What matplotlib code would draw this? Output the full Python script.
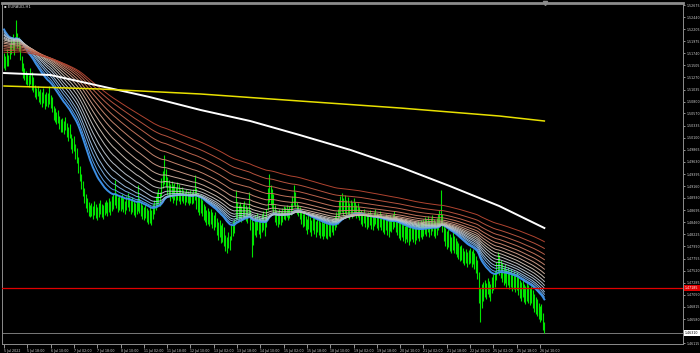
import numpy as np
import pandas as pd
import matplotlib
matplotlib.use("Agg")
import matplotlib.pyplot as plt
from matplotlib.colors import LinearSegmentedColormap

# EURAUD H1, one entry per bar (5 Jul 02:00 -> 26 Jul ~13:00)
highs = [
    1.5175, 1.5168, 1.5182, 1.5170, 1.5192, 1.5205, 1.5211, 1.5198, 1.5238, 1.5214,
    1.5206, 1.5190, 1.5168, 1.5155, 1.5146, 1.5140, 1.5135, 1.5131, 1.5146, 1.5138,
    1.5128, 1.5113, 1.5106, 1.5111, 1.5100, 1.5104, 1.5098, 1.5107, 1.5095, 1.5099,
    1.5096, 1.5110, 1.5092, 1.5088, 1.5072, 1.5068, 1.5060, 1.5064, 1.5052, 1.5046,
    1.5048, 1.5043, 1.5050, 1.5039, 1.5031, 1.5036, 1.5018, 1.5010, 1.5014, 1.4998,
    1.4990, 1.4972, 1.4955, 1.4940, 1.4925, 1.4912, 1.4900, 1.4893, 1.4886, 1.4880,
    1.4884, 1.4878, 1.4888, 1.4881, 1.4876, 1.4884, 1.4890, 1.4882, 1.4879, 1.4886,
    1.4890, 1.4885, 1.4893, 1.4888, 1.4896, 1.4901, 1.4928, 1.4902, 1.4894, 1.4898,
    1.4896, 1.4900, 1.4893, 1.4888, 1.4897, 1.4903, 1.4895, 1.4889, 1.4894, 1.4887,
    1.4884, 1.4890, 1.4918, 1.4893, 1.4885, 1.4880, 1.4876, 1.4882, 1.4874, 1.4870,
    1.4876, 1.4870, 1.4881, 1.4890, 1.4897, 1.4904, 1.4911, 1.4905, 1.4932, 1.4946,
    1.4976, 1.4950, 1.4934, 1.4928, 1.4920, 1.4925, 1.4918, 1.4922, 1.4915, 1.4924,
    1.4920, 1.4911, 1.4915, 1.4908, 1.4904, 1.4910, 1.4906, 1.4902, 1.4908, 1.4905,
    1.4910, 1.4938, 1.4912, 1.4903, 1.4896, 1.4899, 1.4890, 1.4882, 1.4878, 1.4870,
    1.4874, 1.4868, 1.4872, 1.4865, 1.4860, 1.4866, 1.4855, 1.4846, 1.4850, 1.4840,
    1.4845, 1.4836, 1.4822, 1.4818, 1.4826, 1.4820, 1.4840, 1.4848, 1.4852, 1.4908,
    1.4885, 1.4880, 1.4886, 1.4878, 1.4882, 1.4888, 1.4880, 1.4876, 1.4904, 1.4870,
    1.4852, 1.4846, 1.4860, 1.4852, 1.4864, 1.4858, 1.4850, 1.4862, 1.4868, 1.4858,
    1.4872, 1.4912, 1.4940, 1.4918, 1.4910, 1.4900, 1.4880, 1.4870, 1.4866, 1.4872,
    1.4868, 1.4874, 1.4878, 1.4876, 1.4880, 1.4872, 1.4878, 1.4884, 1.4896, 1.4918,
    1.4904, 1.4886, 1.4880, 1.4875, 1.4868, 1.4862, 1.4866, 1.4858, 1.4852, 1.4860,
    1.4856, 1.4850, 1.4862, 1.4854, 1.4848, 1.4856, 1.4852, 1.4846, 1.4850, 1.4844,
    1.4850, 1.4846, 1.4842, 1.4848, 1.4845, 1.4852, 1.4848, 1.4858, 1.4866, 1.4872,
    1.4890, 1.4896, 1.4902, 1.4892, 1.4898, 1.4890, 1.4894, 1.4884, 1.4890, 1.4886,
    1.4892, 1.4886, 1.4880, 1.4884, 1.4876, 1.4870, 1.4866, 1.4872, 1.4864, 1.4860,
    1.4866, 1.4870, 1.4862, 1.4858, 1.4866, 1.4872, 1.4864, 1.4860, 1.4868, 1.4862,
    1.4858, 1.4856, 1.4862, 1.4854, 1.4850, 1.4860, 1.4856, 1.4862, 1.4868, 1.4858,
    1.4852, 1.4848, 1.4844, 1.4850, 1.4842, 1.4838, 1.4846, 1.4840, 1.4834, 1.4842,
    1.4846, 1.4840, 1.4836, 1.4844, 1.4848, 1.4842, 1.4850, 1.4846, 1.4852, 1.4856,
    1.4852, 1.4858, 1.4850, 1.4854, 1.4860, 1.4852, 1.4848, 1.4854, 1.4862, 1.4870,
    1.4908, 1.4862, 1.4846, 1.4834, 1.4828, 1.4832, 1.4824, 1.4818, 1.4826, 1.4820,
    1.4816, 1.4810, 1.4806, 1.4800, 1.4802, 1.4796, 1.4790, 1.4794, 1.4788, 1.4792,
    1.4796, 1.4790, 1.4794, 1.4786, 1.4780, 1.4772, 1.4750, 1.4718, 1.4726, 1.4730,
    1.4734, 1.4728, 1.4738, 1.4732, 1.4726, 1.4740, 1.4746, 1.4752, 1.4768, 1.4788,
    1.4782, 1.4772, 1.4766, 1.4760, 1.4764, 1.4756, 1.4760, 1.4752, 1.4756, 1.4748,
    1.4752, 1.4746, 1.4750, 1.4740, 1.4734, 1.4730, 1.4736, 1.4726, 1.4722, 1.4728,
    1.4724, 1.4718, 1.4722, 1.4714, 1.4706, 1.4700, 1.4696, 1.4690, 1.4684, 1.4688, 1.4670, 1.4652,
]
lows = [
    1.5146, 1.5141, 1.5150, 1.5149, 1.5163, 1.5172, 1.5180, 1.5170, 1.5199, 1.5185,
    1.5178, 1.5160, 1.5139, 1.5126, 1.5121, 1.5115, 1.5112, 1.5108, 1.5114, 1.5102,
    1.5099, 1.5088, 1.5085, 1.5090, 1.5080, 1.5075, 1.5070, 1.5078, 1.5066, 1.5071,
    1.5070, 1.5075, 1.5068, 1.5060, 1.5045, 1.5040, 1.5036, 1.5039, 1.5027, 1.5021,
    1.5022, 1.5017, 1.5024, 1.5012, 1.5004, 1.5010, 1.4988, 1.4980, 1.4984, 1.4968,
    1.4960, 1.4941, 1.4925, 1.4910, 1.4896, 1.4884, 1.4873, 1.4865, 1.4858, 1.4856,
    1.4858, 1.4853, 1.4860, 1.4855, 1.4850, 1.4857, 1.4862, 1.4856, 1.4852, 1.4860,
    1.4863, 1.4858, 1.4866, 1.4860, 1.4868, 1.4872, 1.4880, 1.4873, 1.4866, 1.4870,
    1.4868, 1.4872, 1.4866, 1.4862, 1.4870, 1.4876, 1.4868, 1.4861, 1.4866, 1.4860,
    1.4857, 1.4862, 1.4868, 1.4864, 1.4858, 1.4852, 1.4850, 1.4855, 1.4846, 1.4842,
    1.4845, 1.4840, 1.4852, 1.4862, 1.4869, 1.4876, 1.4882, 1.4878, 1.4895, 1.4912,
    1.4920, 1.4915, 1.4898, 1.4894, 1.4888, 1.4892, 1.4884, 1.4889, 1.4880, 1.4890,
    1.4888, 1.4882, 1.4887, 1.4884, 1.4880, 1.4886, 1.4883, 1.4879, 1.4884, 1.4881,
    1.4884, 1.4890, 1.4872, 1.4866, 1.4860, 1.4864, 1.4858, 1.4850, 1.4846, 1.4840,
    1.4842, 1.4838, 1.4843, 1.4834, 1.4830, 1.4836, 1.4822, 1.4812, 1.4818, 1.4806,
    1.4808, 1.4800, 1.4790, 1.4786, 1.4795, 1.4792, 1.4812, 1.4820, 1.4825, 1.4850,
    1.4852, 1.4848, 1.4855, 1.4846, 1.4852, 1.4857, 1.4849, 1.4845, 1.4860, 1.4830,
    1.4778, 1.4802, 1.4822, 1.4818, 1.4830, 1.4824, 1.4815, 1.4826, 1.4830, 1.4820,
    1.4836, 1.4870, 1.4886, 1.4880, 1.4872, 1.4862, 1.4846, 1.4840, 1.4836, 1.4842,
    1.4840, 1.4846, 1.4852, 1.4850, 1.4856, 1.4850, 1.4854, 1.4860, 1.4870, 1.4880,
    1.4876, 1.4862, 1.4858, 1.4852, 1.4842, 1.4836, 1.4838, 1.4830, 1.4824, 1.4832,
    1.4826, 1.4820, 1.4830, 1.4824, 1.4818, 1.4826, 1.4822, 1.4816, 1.4820, 1.4814,
    1.4820, 1.4816, 1.4814, 1.4820, 1.4818, 1.4826, 1.4822, 1.4830, 1.4836, 1.4842,
    1.4856, 1.4862, 1.4866, 1.4858, 1.4864, 1.4856, 1.4860, 1.4852, 1.4858, 1.4854,
    1.4864, 1.4860, 1.4854, 1.4856, 1.4850, 1.4842, 1.4838, 1.4844, 1.4836, 1.4832,
    1.4836, 1.4840, 1.4832, 1.4830, 1.4838, 1.4842, 1.4834, 1.4830, 1.4836, 1.4830,
    1.4826, 1.4824, 1.4830, 1.4822, 1.4818, 1.4828, 1.4826, 1.4832, 1.4836, 1.4826,
    1.4822, 1.4816, 1.4812, 1.4818, 1.4810, 1.4806, 1.4814, 1.4808, 1.4802, 1.4810,
    1.4814, 1.4808, 1.4804, 1.4812, 1.4816, 1.4810, 1.4818, 1.4814, 1.4820, 1.4824,
    1.4820, 1.4826, 1.4818, 1.4822, 1.4828, 1.4820, 1.4816, 1.4822, 1.4830, 1.4836,
    1.4840, 1.4826, 1.4810, 1.4800, 1.4794, 1.4798, 1.4790, 1.4786, 1.4792, 1.4786,
    1.4784, 1.4778, 1.4774, 1.4770, 1.4772, 1.4766, 1.4762, 1.4766, 1.4760, 1.4764,
    1.4766, 1.4760, 1.4764, 1.4756, 1.4748, 1.4736, 1.4690, 1.4652, 1.4680, 1.4694,
    1.4700, 1.4696, 1.4706, 1.4700, 1.4694, 1.4708, 1.4714, 1.4720, 1.4734, 1.4748,
    1.4744, 1.4738, 1.4730, 1.4724, 1.4728, 1.4720, 1.4724, 1.4716, 1.4720, 1.4712,
    1.4716, 1.4710, 1.4714, 1.4704, 1.4698, 1.4694, 1.4700, 1.4692, 1.4688, 1.4694,
    1.4690, 1.4686, 1.4690, 1.4680, 1.4672, 1.4668, 1.4664, 1.4658, 1.4652, 1.4656, 1.4636, 1.4630,
]

time_labels = ["5 Jul 2022", "5 Jul 18:00", "6 Jul 10:00", "7 Jul 02:00", "7 Jul 18:00",
               "8 Jul 10:00", "11 Jul 02:00", "11 Jul 18:00", "12 Jul 10:00", "13 Jul 02:00",
               "13 Jul 18:00", "14 Jul 10:00", "15 Jul 02:00", "15 Jul 18:00", "18 Jul 10:00",
               "19 Jul 02:00", "19 Jul 18:00", "20 Jul 10:00", "21 Jul 02:00", "21 Jul 18:00",
               "22 Jul 10:00", "25 Jul 02:00", "25 Jul 18:00", "26 Jul 10:00"]
price_ticks = [1.52675, 1.52440, 1.52205, 1.51975, 1.51740, 1.51505, 1.51270, 1.51035,
               1.50800, 1.50570, 1.50335, 1.50100, 1.49865, 1.49630, 1.49395, 1.49160,
               1.48930, 1.48695, 1.48460, 1.48225, 1.47990, 1.47755, 1.47520, 1.47285,
               1.47050, 1.46815, 1.46580, 1.46345, 1.46115]

red_level = 1.47185
last_price = 1.46310

# moving average ribbon: periods and the value each line starts from at the left edge
ma_periods = [25, 29, 34, 39, 46, 53, 62, 72, 84, 98, 114, 133, 155, 180, 210]
ma_seeds = [1.5225, 1.5221, 1.5218, 1.5214, 1.5211, 1.5207, 1.5204, 1.5201,
            1.5197, 1.5194, 1.5190, 1.5187, 1.5183, 1.5180, 1.5176]

# slow white and yellow averages (bar index, price)
white_bars = [0, 32, 66, 100, 135, 169, 203, 238, 272, 306, 340, 371]
white_vals = [1.51355, 1.51316, 1.51103, 1.50889, 1.50637, 1.50424, 1.50152, 1.49861,
              1.49531, 1.49162, 1.48774, 1.48347]
yellow_bars = [0, 66, 135, 203, 272, 340, 371]
yellow_vals = [1.51103, 1.51045, 1.50948, 1.50812, 1.50676, 1.50521, 1.50424]

bars = np.arange(len(highs))
median = (np.array(highs) + np.array(lows)) / 2


def ema(seed, period):
    s = pd.Series(np.concatenate([[seed], median]))
    return s.ewm(span=period, adjust=False).mean().values[1:]


fig = plt.figure(figsize=(7, 3.53), dpi=100, facecolor="black")
ax = fig.add_axes([2 / 700, 9 / 353, 681 / 700, 341 / 353], facecolor="black")

ax.vlines(bars, lows, highs, color="#00e400", lw=0.8, zorder=2)

cmap = LinearSegmentedColormap.from_list(
    "rib", ["#3c8fe6", "#a9c0d8", "#c8bcb0", "#c47a62", "#b04430"])
for k, (p, sd) in enumerate(zip(ma_periods, ma_seeds)):
    c = cmap(k / (len(ma_periods) - 1))
    ax.plot(bars, ema(sd, p), color=c, lw=1.4 if k == 0 else 0.7, zorder=3)

ax.plot(white_bars, white_vals, color="white", lw=1.4, zorder=4)
ax.plot(yellow_bars, yellow_vals, color="#e8e000", lw=1.1, zorder=4)

ax.axhline(last_price, color="#8c8c8c", lw=0.6, zorder=1)
ax.axhline(red_level, color="#e00000", lw=0.9, zorder=5)

ax.set_xlim(-1.4, 466.2)
ax.set_ylim(1.46096, 1.52714)

for side in ["left", "right", "bottom"]:
    ax.spines[side].set_color("#8c8c8c")
    ax.spines[side].set_linewidth(0.7)
ax.spines["top"].set_color("#8c8c8c")
ax.spines["top"].set_linewidth(2)

ax.yaxis.tick_right()
ax.set_yticks(price_ticks)
ax.set_yticklabels([f"{v:.5f}" for v in price_ticks])
ax.tick_params(axis="y", colors="#d0d0d0", labelsize=2.3, length=1.5, width=0.5, pad=0.8)

ax.set_xticks([16 * k for k in range(len(time_labels))])
ax.set_xticklabels(time_labels)
ax.tick_params(axis="x", colors="#d0d0d0", labelsize=2.3, length=3, width=0.5, pad=0.5)
for lbl in ax.get_xticklabels():
    lbl.set_horizontalalignment("left")

trans = ax.get_yaxis_transform()
ax.text(1.003, red_level, f"{red_level:.5f}", transform=trans, fontsize=2.3, color="white",
        va="center", ha="left", bbox=dict(boxstyle="square,pad=0.3", fc="#e00000", ec="none"))
ax.text(1.003, last_price, f"{last_price:.5f}", transform=trans, fontsize=2.3, color="black",
        va="center", ha="left", bbox=dict(boxstyle="square,pad=0.3", fc="white", ec="none"))

# chart shift marker
ax.plot([371.5], [1.52714], marker="v", color="#8c8c8c", markersize=3, clip_on=False)

fig.text(4 / 700, 1 - 7 / 353, "\u25aa EURAUD,H1", fontsize=2.8, color="#d0d0d0", va="center")

fig.savefig("out.png", dpi=100, facecolor="black")
